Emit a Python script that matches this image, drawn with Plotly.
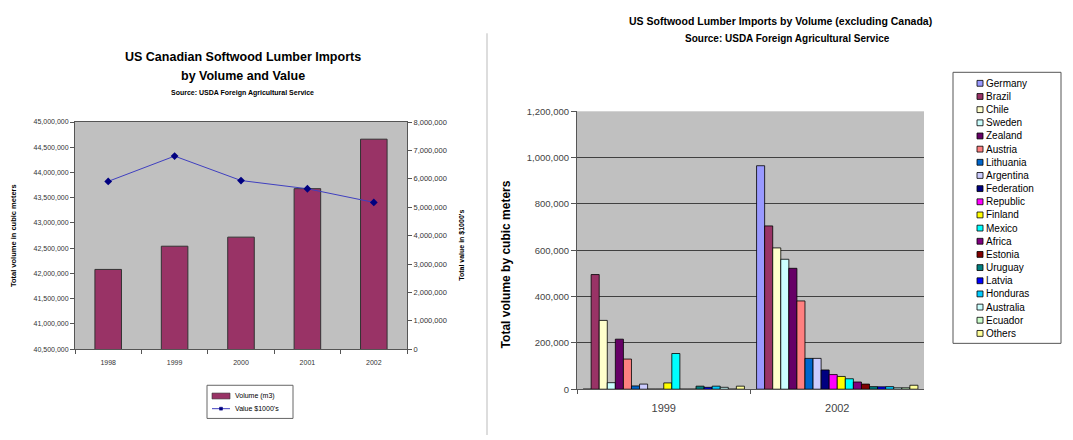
import plotly.graph_objects as go

W, H = 1073, 440
FONT = "Liberation Sans, Arial, sans-serif"

# ---- Left chart: Canadian imports, volume (bars) and value (line) ----
years = ["1998", "1999", "2000", "2001", "2002"]
volume_m3 = [42080000, 42540000, 42720000, 43680000, 44660000]
value_k = [5910000, 6800000, 5940000, 5650000, 5170000]

# ---- Right chart: imports by origin, excluding Canada ----
periods = ["1999", "2002"]
countries = ["Germany", "Brazil", "Chile", "Sweden", "Zealand", "Austria",
             "Lithuania", "Argentina", "Federation", "Republic", "Finland",
             "Mexico", "Africa", "Estonia", "Uruguay", "Latvia", "Honduras",
             "Australia", "Ecuador", "Others"]
vol_1999 = [0, 495000, 297000, 28000, 216000, 130000, 14000, 22000, 0, 0,
            27000, 154000, 0, 0, 13000, 8000, 13000, 8000, 0, 13000]
vol_2002 = [965000, 705000, 610000, 561000, 522000, 381000, 133000, 133000,
            83000, 63000, 55000, 45000, 31000, 22000, 11000, 10000, 11000,
            6000, 6000, 17000]
country_colors = ["#9999FF", "#993366", "#FFFFCC", "#CCFFFF", "#660066",
                  "#FF8080", "#0066CC", "#CCCCFF", "#000080", "#FF00FF",
                  "#FFFF00", "#00FFFF", "#800080", "#800000", "#008080",
                  "#0000FF", "#00CCFF", "#CCFFFF", "#CCFFCC", "#FFFF99"]


def fx(px):
    return px / W


def fy(py):
    return 1 - py / H


fig = go.Figure()

fig.add_trace(go.Bar(
    x=years, y=volume_m3, name="Volume (m3)", xaxis="x", yaxis="y",
    width=0.4, marker=dict(color="#993366", line=dict(color="#333333", width=1)),
    showlegend=False,
))
fig.add_trace(go.Scatter(
    x=years, y=value_k, name="Value $1000's", xaxis="x", yaxis="y2",
    mode="lines+markers",
    line=dict(color="#3F3FBF", width=1),
    marker=dict(symbol="diamond", size=6, color="#000080"),
    showlegend=False,
))

for name, v1, v2, col in zip(countries, vol_1999, vol_2002, country_colors):
    fig.add_trace(go.Bar(
        x=periods, y=[v1, v2], name=name, xaxis="x2", yaxis="y3",
        marker=dict(color=col, line=dict(color="#000000", width=0.8)),
        showlegend=False,
    ))

axis_common = dict(showline=True, linecolor="#555555", linewidth=1,
                   ticks="outside", tickcolor="#555555", ticklen=4,
                   showgrid=False, zeroline=False)

layout_annotations = []
layout_shapes = []


def text(x, y, s, size, bold=False, anchor="center", angle=0, color="#000000"):
    layout_annotations.append(dict(
        x=fx(x), y=fy(y), xref="paper", yref="paper", text=f"<b>{s}</b>" if bold else s,
        showarrow=False, xanchor=anchor, yanchor="middle", textangle=angle,
        font=dict(family=FONT, size=size, color=color),
    ))


# Left chart titles
text(243, 52, "US Canadian Softwood Lumber Imports", 12.5, bold=True)
text(243, 72, "by Volume and Value", 12.5, bold=True)
text(243, 89, "Source: USDA Foreign Agricultural Service", 7, bold=True)
text(13, 236, "Total volume in cubic meters", 7.5, bold=True, angle=-90)
text(462, 246, "Total value in $1000's", 7, bold=True, angle=-90)

# Left legend
layout_shapes.append(dict(type="rect", xref="paper", yref="paper",
                          x0=fx(207), x1=fx(293), y0=fy(389), y1=fy(423),
                          line=dict(color="#666666", width=1), fillcolor="white"))
layout_shapes.append(dict(type="rect", xref="paper", yref="paper",
                          x0=fx(212), x1=fx(230), y0=fy(397), y1=fy(403),
                          line=dict(color="#333333", width=0.6), fillcolor="#993366"))
layout_shapes.append(dict(type="line", xref="paper", yref="paper",
                          x0=fx(212), x1=fx(230), y0=fy(413), y1=fy(413),
                          line=dict(color="#3F3FBF", width=1)))
layout_shapes.append(dict(type="rect", xref="paper", yref="paper",
                          x0=fx(219.5), x1=fx(222.5), y0=fy(411.5), y1=fy(414.5),
                          line=dict(color="#000080", width=0.5), fillcolor="#000080"))
text(233, 400, "Volume (m3)", 7, anchor="left")
text(233, 413, "Value $1000's", 7, anchor="left")

# Right chart titles
text(780, 15, "US Softwood Lumber Imports by Volume (excluding Canada)", 10.5, bold=True)
text(787, 33, "Source: USDA Foreign Agricultural Service", 10, bold=True)
text(506, 265, "Total volume by cubic meters", 12, bold=True, angle=-90)

# Right legend
top_y, step = 79.3, 13.5
layout_shapes.append(dict(type="rect", xref="paper", yref="paper",
                          x0=fx(953), x1=fx(1061), y0=fy(68), y1=fy(346),
                          line=dict(color="#555555", width=1), fillcolor="white"))
for i, (name, col) in enumerate(zip(countries, country_colors)):
    cy = top_y + i * step
    layout_shapes.append(dict(type="rect", xref="paper", yref="paper",
                              x0=fx(977), x1=fx(983), y0=fy(cy - 3), y1=fy(cy + 3),
                              line=dict(color="#000000", width=0.8), fillcolor=col))
    text(984, cy, name, 10, anchor="left")

# Divider between the two charts
layout_shapes.append(dict(type="line", xref="paper", yref="paper",
                          x0=fx(487), x1=fx(487), y0=fy(28), y1=fy(440),
                          line=dict(color="#BBBBBB", width=1)))

fig.update_layout(
    width=W, height=H, autosize=False,
    margin=dict(l=0, r=0, t=0, b=0),
    paper_bgcolor="white", plot_bgcolor="#C0C0C0",
    barmode="group", bargap=0.07, bargroupgap=0,
    showlegend=False,
    font=dict(family=FONT, color="#333333"),
    xaxis=dict(domain=[fx(75), fx(407)], anchor="y", type="category",
               tickson="boundaries", mirror=True, ticklabelstandoff=6,
               tickfont=dict(size=7, color="#333333"), **axis_common),
    yaxis=dict(domain=[fy(352), fy(119)], anchor="x", range=[40500000, 45000000],
               dtick=500000, tickformat=",",
               tickfont=dict(size=7, color="#333333"), **axis_common),
    yaxis2=dict(overlaying="y", side="right", anchor="x", range=[0, 8000000],
                dtick=1000000, tickformat=",",
                tickfont=dict(size=7.5, color="#333333"), **axis_common),
    xaxis2=dict(domain=[fx(577), fx(924)], anchor="y3", type="category",
                tickson="boundaries", ticklabelstandoff=9,
                tickfont=dict(size=11, color="#444444"), **axis_common),
    yaxis3=dict(domain=[fy(393), fy(108)], anchor="x2", range=[0, 1200000],
                dtick=200000, tickformat=",",
                tickfont=dict(size=9.5, color="#444444"),
                showline=True, linecolor="#555555", linewidth=1,
                ticks="outside", tickcolor="#555555", ticklen=5,
                showgrid=True, gridcolor="#404040", gridwidth=1, zeroline=False),
    annotations=layout_annotations,
    shapes=layout_shapes,
)

fig.write_html("out.html")
